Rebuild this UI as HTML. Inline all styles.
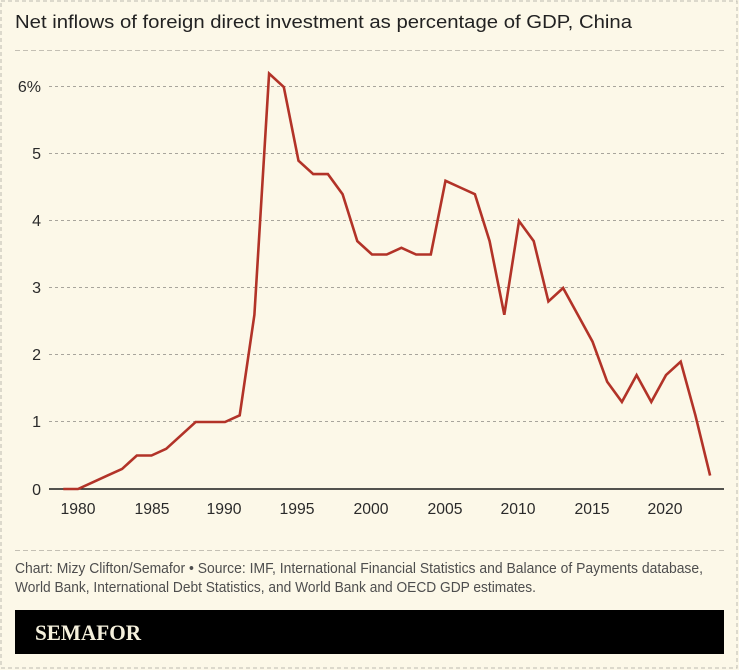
<!DOCTYPE html>
<html><head><meta charset="utf-8"><style>
html,body{margin:0;padding:0;background:#fcf8e8;}
svg{display:block;}
</style></head><body>
<svg width="739" height="670" viewBox="0 0 739 670" xmlns="http://www.w3.org/2000/svg">
<rect x="0" y="0" width="739" height="670" fill="#fcf8e8"/>
<rect x="1" y="1" width="736" height="667" fill="none" stroke="#bdbab0" stroke-width="1" stroke-dasharray="4,3"/>
<text x="15" y="28" font-family="Liberation Sans, sans-serif" font-size="18" fill="#222" textLength="617" lengthAdjust="spacingAndGlyphs">Net inflows of foreign direct investment as percentage of GDP, China</text>
<line x1="15" y1="50.5" x2="724" y2="50.5" stroke="#c4c0b4" stroke-width="1" stroke-dasharray="5,3"/>
<g stroke="#a8a59c" stroke-width="1" stroke-dasharray="3,3">
<line x1="49" y1="86.5" x2="724" y2="86.5"/>
<line x1="49" y1="153.5" x2="724" y2="153.5"/>
<line x1="49" y1="220.5" x2="724" y2="220.5"/>
<line x1="49" y1="287.5" x2="724" y2="287.5"/>
<line x1="49" y1="354.5" x2="724" y2="354.5"/>
<line x1="49" y1="421.5" x2="724" y2="421.5"/>
</g>
<g font-family="Liberation Sans, sans-serif" font-size="16" fill="#2a2a2a" text-anchor="end">
<text x="41" y="92">6%</text>
<text x="41" y="159">5</text>
<text x="41" y="226">4</text>
<text x="41" y="293">3</text>
<text x="41" y="360">2</text>
<text x="41" y="427">1</text>
<text x="41" y="495">0</text>
</g>
<line x1="49" y1="489" x2="724" y2="489" stroke="#1a1a1a" stroke-width="1.5"/>
<g font-family="Liberation Sans, sans-serif" font-size="16" fill="#2a2a2a" text-anchor="middle">
<text x="78" y="514" textLength="35" lengthAdjust="spacingAndGlyphs">1980</text>
<text x="152" y="514" textLength="35" lengthAdjust="spacingAndGlyphs">1985</text>
<text x="224" y="514" textLength="35" lengthAdjust="spacingAndGlyphs">1990</text>
<text x="297" y="514" textLength="35" lengthAdjust="spacingAndGlyphs">1995</text>
<text x="371" y="514" textLength="35" lengthAdjust="spacingAndGlyphs">2000</text>
<text x="445" y="514" textLength="35" lengthAdjust="spacingAndGlyphs">2005</text>
<text x="518" y="514" textLength="35" lengthAdjust="spacingAndGlyphs">2010</text>
<text x="592" y="514" textLength="35" lengthAdjust="spacingAndGlyphs">2015</text>
<text x="665" y="514" textLength="35" lengthAdjust="spacingAndGlyphs">2020</text>
</g>
<polyline fill="none" stroke="#b23328" stroke-width="2.6" stroke-linejoin="miter" points="63.3,489 78.0,489 92.7,482.3 107.4,475.6 122.1,468.9 136.8,455.5 151.5,455.5 166.2,448.8 180.9,435.4 195.6,422 210.3,422 225,422 239.7,415.3 254.4,314.8 269.1,73.6 283.8,87 298.5,160.7 313.2,174.1 327.9,174.1 342.6,194.2 357.3,241.1 372,254.5 386.7,254.5 401.4,247.8 416.1,254.5 430.8,254.5 445.5,180.8 460.2,187.5 474.9,194.2 489.6,241.1 504.3,314.8 519,221 533.7,241.1 548.4,301.4 563.1,288 577.8,314.8 592.5,341.6 607.2,381.8 621.9,401.9 636.6,375.1 651.3,401.9 666,375.1 680.7,361.7 695.4,415.3 710.1,475.6"/>
<line x1="15" y1="550.5" x2="724" y2="550.5" stroke="#c4c0b4" stroke-width="1" stroke-dasharray="5,3"/>
<g font-family="Liberation Sans, sans-serif" font-size="14.5" fill="#4e4e4e">
<text x="15" y="573" textLength="688" lengthAdjust="spacingAndGlyphs">Chart: Mizy Clifton/Semafor • Source: IMF, International Financial Statistics and Balance of Payments database,</text>
<text x="15" y="592" textLength="521" lengthAdjust="spacingAndGlyphs">World Bank, International Debt Statistics, and World Bank and OECD GDP estimates.</text>
</g>
<rect x="15" y="610" width="709" height="44" fill="#000"/>
<text x="35" y="640" font-family="Liberation Serif, serif" font-weight="bold" font-size="22" fill="#f5f0dc" textLength="106" lengthAdjust="spacingAndGlyphs">SEMAFOR</text>
</svg>
</body></html>
